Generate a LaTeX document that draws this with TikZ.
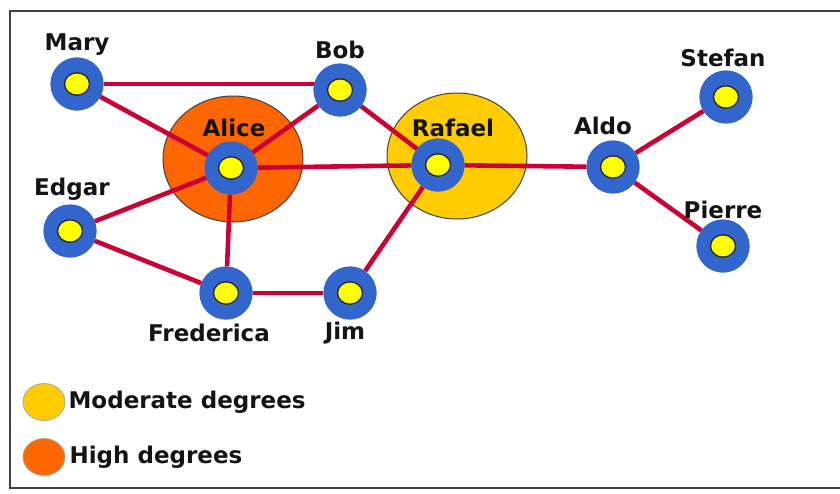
\documentclass[tikz,border=0pt]{standalone}
\usepackage{fontspec}
\setmainfont{DejaVu Sans}
\usetikzlibrary{shapes.geometric}
\definecolor{edgered}{HTML}{CC0033}
\definecolor{ringblue}{HTML}{3366CC}
\definecolor{coreyellow}{HTML}{FFFF00}
\definecolor{modyellow}{HTML}{FFCC00}
\definecolor{highorange}{HTML}{FF6600}
\definecolor{txt}{HTML}{141414}
\tikzset{
  link/.style={draw=edgered, line width=4.6pt},
  person/.style={circle, fill=ringblue, minimum size=53pt, inner sep=0pt},
  lbl/.style={text=txt, font=\fontsize{23}{26}\selectfont\bfseries, inner sep=0pt},
  big/.style={ellipse, draw=black!75, line width=1pt, minimum width=140pt, minimum height=126pt, inner sep=0pt},
  legdot/.style={ellipse, draw=black!35, line width=0.8pt, minimum width=42pt, minimum height=37pt, inner sep=0pt}
}
\begin{document}
\begin{tikzpicture}[x=1pt,y=-1pt]
\useasboundingbox (0,0) rectangle (840,493);
\clip (0,0) rectangle (840,493);
\fill[white] (0,0) rectangle (840,493);
% frame
\draw[black!75, line width=2.2pt] (10,11) rectangle (860,488);
% big degree circles
\node[big, fill=highorange] (alicebig) at (233,159) {};
\node[big, fill=modyellow] (rafaelbig) at (457,156) {};
% people
\node[person] (mary) at (77,84) {};
\node[person] (bob) at (340,90) {};
\node[person] (alice) at (231,168) {};
\node[person] (edgar) at (70,231) {};
\node[person] (rafael) at (438,165) {};
\node[person] (aldo) at (613,167) {};
\node[person] (stefan) at (726,97) {};
\node[person] (pierre) at (723,246) {};
\node[person] (fred) at (226,293) {};
\node[person] (jim) at (350,293) {};
% links
\draw[link] (mary) -- (mary -| bob);
\draw[link] (mary) -- (alice);
\draw[link] (bob) -- (alice);
\draw[link] (bob) -- (rafael);
\draw[link] (alice) -- (rafael);
\draw[link] (alice) -- (edgar);
\draw[link] (alice) -- (fred);
\draw[link] (edgar) -- (fred);
\draw[link] (fred) -- (jim);
\draw[link] (jim) -- (rafael);
\draw[link] (rafael) -- (aldo);
\draw[link] (aldo) -- (stefan);
\draw[link] (aldo) -- (pierre);
% rings on top and yellow cores
\foreach \n in {mary,bob,alice,edgar,rafael,aldo,stefan,pierre,fred,jim}{
  \fill[ringblue] (\n) circle (26.5);
  \filldraw[fill=coreyellow, draw=black!85, line width=1.3pt] (\n) ellipse (12.5 and 11.2);
}
% labels
\node[lbl] (maryl) at (77,45) {Mary};
\node[lbl] (bobl) at (340,50) {Bob};
\node[lbl] (alicel) at (234,128) {Alice};
\node[lbl] (edgarl) at (72,189) {Edgar};
\node[lbl] (rafaell) at (453,128) {Rafael};
\node[lbl] (aldol) at (603,126) {Aldo};
\node[lbl] (stefanl) at (723,58) {Stefan};
\node[lbl] (pierrel) at (723,210) {Pierre};
\node[lbl] (fredl) at (209,333) {Frederica};
\node[lbl] (jiml) at (345,333) {Jim};
% legend
\node[legdot, fill=modyellow] (legmod) at (44,402) {};
\node[lbl, anchor=west] (legmodl) at ([xshift=3pt]legmod.east) {Moderate degrees};
\node[legdot, fill=highorange] (leghigh) at (44,457) {};
\node[lbl, anchor=west] (leghighl) at ([xshift=4pt]leghigh.east) {High degrees};
\end{tikzpicture}
\end{document}
